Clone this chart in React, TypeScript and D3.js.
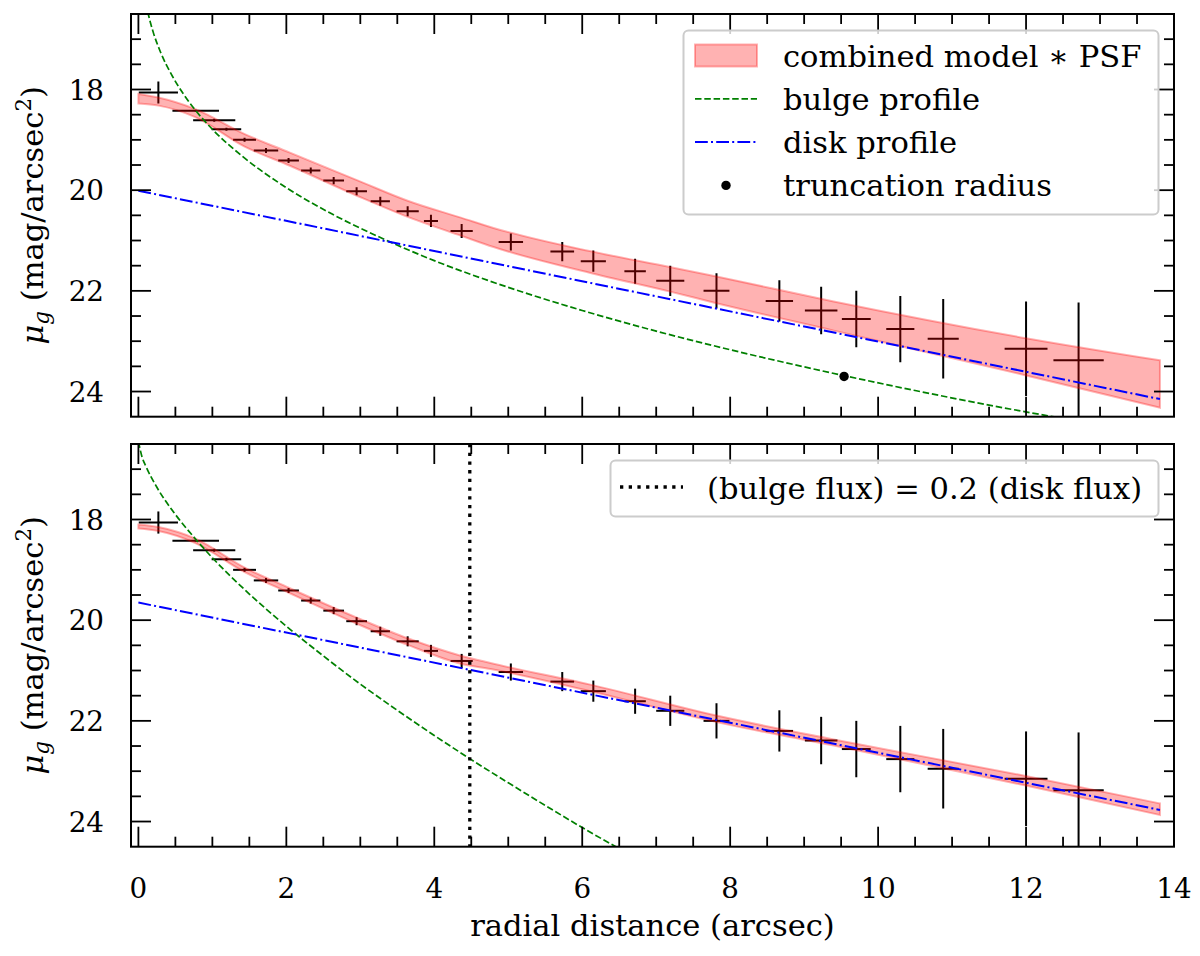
import React from 'react';
import * as d3 from 'd3';

// ---------- data ----------
const radius = [0.27, 0.775, 1.025, 1.19, 1.435, 1.725, 2.03, 2.33, 2.64, 2.95, 3.27, 3.64, 3.955, 4.37, 5.035, 5.73, 6.15, 6.715, 7.19, 7.815, 8.665, 9.23, 9.705, 10.3, 10.88, 12.0, 12.71];
const radiusErr = [0.265, 0.315, 0.285, 0.2, 0.155, 0.165, 0.14, 0.13, 0.14, 0.14, 0.13, 0.15, 0.095, 0.15, 0.165, 0.16, 0.17, 0.145, 0.19, 0.175, 0.185, 0.22, 0.195, 0.19, 0.21, 0.29, 0.34];
const mu = [18.06, 18.42, 18.61, 18.79, 19.0, 19.21, 19.41, 19.61, 19.81, 20.02, 20.22, 20.42, 20.61, 20.81, 21.03, 21.22, 21.41, 21.61, 21.8, 22.0, 22.2, 22.39, 22.56, 22.76, 22.95, 23.15, 23.38];
const muErr = [0.22, 0.02, 0.03, 0.03, 0.04, 0.05, 0.05, 0.06, 0.07, 0.08, 0.09, 0.1, 0.12, 0.14, 0.17, 0.19, 0.21, 0.25, 0.3, 0.35, 0.41, 0.47, 0.56, 0.66, 0.79, 0.94, 1.15];

// top panel model band (combined model * PSF)
const bandTopR = [0, 0.27, 0.77, 1.43, 2.04, 2.97, 3.64, 4.37, 4.8, 6.1, 7.2, 7.8, 9.4, 12.0, 13.81];
const bandTopUpper = [18.09, 18.16, 18.39, 18.88, 19.25, 19.81, 20.21, 20.55, 20.75, 21.21, 21.53, 21.71, 22.21, 22.94, 23.38];
const bandTopLower = [18.28, 18.32, 18.55, 19.13, 19.51, 20.12, 20.53, 20.91, 21.13, 21.64, 22.02, 22.24, 22.79, 23.68, 24.32];

// bottom panel model band
const bandBotR = [0, 0.27, 0.77, 1.43, 2.04, 2.97, 3.64, 4.37, 4.76, 6.11, 7.83, 9.4, 11.98, 13.81];
const bandBotUpper = [18.1, 18.15, 18.38, 18.95, 19.36, 19.96, 20.36, 20.71, 20.85, 21.28, 21.9, 22.37, 23.09, 23.64];
const bandBotLower = [18.18, 18.23, 18.47, 19.04, 19.46, 20.08, 20.49, 20.87, 20.97, 21.41, 22.03, 22.49, 23.28, 23.87];

// bulge profiles
const bulgeTopR = [0.1, 0.135, 0.2, 0.3, 0.45, 0.6, 0.77, 1.0, 1.4, 2.0, 2.6, 3.3, 4.0, 5.0, 6.0, 7.0, 8.0, 9.0, 10.5, 11.5, 12.4];
const bulgeTopMu = [16.27, 16.51, 16.86, 17.26, 17.71, 18.07, 18.41, 18.79, 19.32, 19.95, 20.46, 20.96, 21.4, 21.93, 22.39, 22.8, 23.17, 23.51, 23.98, 24.27, 24.51];
const bulgeBotR = [0, 0.05, 0.1, 0.25, 0.5, 0.75, 1.0, 1.5, 2.0, 2.5, 3.0, 3.5, 4.0, 4.5, 5.0, 5.5, 6.0, 6.6];
const bulgeBotMu = [16.45, 16.76, 16.94, 17.36, 17.9, 18.35, 18.76, 19.48, 20.12, 20.71, 21.27, 21.79, 22.29, 22.77, 23.23, 23.68, 24.12, 24.62];

// disk profiles
const diskR = [0, 13.81];
const diskTopMu = [20.01, 24.15];
const diskBotMu = [19.65, 23.77];

// special markers
const truncR = [9.54];
const truncMu = [23.7];
const fluxRatioR = 4.48;

// ticks
const xTickVals = [0, 2, 4, 6, 8, 10, 12, 14];
const xTickLabels = ['0', '2', '4', '6', '8', '10', '12', '14'];
const yTickVals = [18, 20, 22, 24];
const yTickLabels = ['18', '20', '22', '24'];

const topLegendLabels = ['combined model \u2217 PSF', 'bulge profile', 'disk profile', 'truncation radius'];
const botLegendLabel = '(bulge flux) = 0.2 (disk flux)';

// ---------- layout ----------
const W = 1200;
const H = 956;
const L = 131;
const R = 1174;
const FONT = "'DejaVu Serif', 'Liberation Serif', serif";
const FS = 27.8; // tick labels
const FL = 30.56; // axis labels & legend

const x = d3.scaleLinear().domain([-0.1, 14]).range([L, R]);

type PanelProps = {
  top: number;
  bottom: number;
  id: string;
  bandR: number[];
  bandUpper: number[];
  bandLower: number[];
  bulgeR: number[];
  bulgeMu: number[];
  diskMu: number[];
  showXLabels: boolean;
  extra?: (y: d3.ScaleLinear<number, number>) => React.ReactNode;
};

function Panel(p: PanelProps) {
  const y = d3.scaleLinear().domain([16.5, 24.5]).range([p.top, p.bottom]);
  const area = d3
    .area<number>()
    .x((_, i) => x(p.bandR[i]))
    .y0((_, i) => y(p.bandLower[i]))
    .y1((_, i) => y(p.bandUpper[i]))
    .curve(d3.curveMonotoneX);
  const bulgeLine = d3
    .line<number>()
    .x((_, i) => x(p.bulgeR[i]))
    .y((d) => y(d))
    .curve(d3.curveMonotoneX);
  const diskLine = d3
    .line<number>()
    .x((_, i) => x(diskR[i]))
    .y((d) => y(d));

  const xMinor = x.ticks(28).filter((t) => !xTickVals.includes(t));
  const yMinor = d3.range(33, 50).map((k) => k / 2).filter((t) => !yTickVals.includes(t) && t > 16.5 && t < 24.5);
  const tickW = 1.8;
  const maj = 20;
  const mnr = 10;

  return (
    <g>
      <defs>
        <clipPath id={p.id}>
          <rect x={L} y={p.top} width={R - L} height={p.bottom - p.top} />
        </clipPath>
      </defs>
      <g clipPath={`url(#${p.id})`}>
        {radius.map((r, i) => (
          <g key={i} stroke="#000" strokeWidth={2}>
            <line x1={x(r - radiusErr[i])} x2={x(r + radiusErr[i])} y1={y(mu[i])} y2={y(mu[i])} />
            <line x1={x(r)} x2={x(r)} y1={y(mu[i] - muErr[i])} y2={y(mu[i] + muErr[i])} />
          </g>
        ))}
        <path
          d={area(p.bandR) || ''}
          fill="red"
          fillOpacity={0.3}
          stroke="red"
          strokeOpacity={0.3}
          strokeWidth={2}
        />
        <path d={bulgeLine(p.bulgeMu) || ''} fill="none" stroke="green" strokeWidth={1.7} strokeDasharray="6.5 2.8" />
        <path d={diskLine(p.diskMu) || ''} fill="none" stroke="blue" strokeWidth={2} strokeDasharray="12.8 3.2 2 3.2" />
        {p.extra ? p.extra(y) : null}
      </g>
      <g stroke="#000" strokeWidth={tickW}>
        {xTickVals.map((t) => (
          <g key={'xm' + t}>
            <line x1={x(t)} x2={x(t)} y1={p.bottom} y2={p.bottom - maj} />
            <line x1={x(t)} x2={x(t)} y1={p.top} y2={p.top + maj} />
          </g>
        ))}
        {xMinor.map((t) => (
          <g key={'xn' + t}>
            <line x1={x(t)} x2={x(t)} y1={p.bottom} y2={p.bottom - mnr} />
            <line x1={x(t)} x2={x(t)} y1={p.top} y2={p.top + mnr} />
          </g>
        ))}
        {yTickVals.map((t) => (
          <g key={'ym' + t}>
            <line x1={L} x2={L + maj} y1={y(t)} y2={y(t)} />
            <line x1={R} x2={R - maj} y1={y(t)} y2={y(t)} />
          </g>
        ))}
        {yMinor.map((t) => (
          <g key={'yn' + t}>
            <line x1={L} x2={L + mnr} y1={y(t)} y2={y(t)} />
            <line x1={R} x2={R - mnr} y1={y(t)} y2={y(t)} />
          </g>
        ))}
      </g>
      <rect x={L} y={p.top} width={R - L} height={p.bottom - p.top} fill="none" stroke="#000" strokeWidth={2} />
      {yTickVals.map((t, i) => (
        <text key={'yl' + t} x={104} y={y(t) + 10} textAnchor="end" fontSize={FS} fontFamily={FONT} fill="#000">
          {yTickLabels[i]}
        </text>
      ))}
      {p.showXLabels &&
        xTickVals.map((t, i) => (
          <text key={'xl' + t} x={x(t)} y={897.5} textAnchor="middle" fontSize={FS} fontFamily={FONT} fill="#000">
            {xTickLabels[i]}
          </text>
        ))}
      <text
        transform={`translate(43, ${(p.top + p.bottom) / 2}) rotate(-90)`}
        textAnchor="middle"
        fontSize={FL}
        fontFamily={FONT}
        fill="#000"
      >
        <tspan fontStyle="italic">μ</tspan>
        <tspan fontStyle="italic" fontSize={21.4} dy={5.5}>g</tspan>
        <tspan dy={-5.5}> (mag/arcsec</tspan>
        <tspan fontSize={21.4} dy={-12}>2</tspan>
        <tspan dy={12}>)</tspan>
      </text>
    </g>
  );
}

export default function App() {
  const rowY = [55.5, 98.8, 142.1, 185.4];
  const hx1 = 695;
  const hx2 = 757;
  return (
    <svg
      width={W}
      height={H}
      viewBox={`0 0 ${W} ${H}`}
      style={{ position: 'absolute', left: 0, top: 0, background: '#fff' }}
      xmlns="http://www.w3.org/2000/svg"
    >
      <rect x={0} y={0} width={W} height={H} fill="#fff" />
      <Panel
        top={14}
        bottom={416.7}
        id="clipTop"
        bandR={bandTopR}
        bandUpper={bandTopUpper}
        bandLower={bandTopLower}
        bulgeR={bulgeTopR}
        bulgeMu={bulgeTopMu}
        diskMu={diskTopMu}
        showXLabels={false}
        extra={(y) => truncR.map((r, i) => <circle key={i} cx={x(r)} cy={y(truncMu[i])} r={4.7} fill="#000" />)}
      />
      <Panel
        top={444}
        bottom={846.7}
        id="clipBot"
        bandR={bandBotR}
        bandUpper={bandBotUpper}
        bandLower={bandBotLower}
        bulgeR={bulgeBotR}
        bulgeMu={bulgeBotMu}
        diskMu={diskBotMu}
        showXLabels={true}
        extra={(y) => (
          <line
            x1={x(fluxRatioR)}
            x2={x(fluxRatioR)}
            y1={y(16.5)}
            y2={y(24.5)}
            stroke="#000"
            strokeWidth={3.3}
            strokeDasharray="3.3 5.4"
          />
        )}
      />

      {/* top legend */}
      <rect x={683.5} y={30.5} width={475} height={184} rx={5} fill="#fff" fillOpacity={0.8} stroke="#cccccc" strokeWidth={2} />
      <rect x={hx1} y={44.5} width={hx2 - hx1} height={22} fill="red" fillOpacity={0.3} stroke="red" strokeOpacity={0.3} strokeWidth={2} />
      <line x1={hx1} x2={hx2} y1={rowY[1]} y2={rowY[1]} stroke="green" strokeWidth={1.7} strokeDasharray="6.5 2.8" />
      <line x1={hx1} x2={hx2} y1={rowY[2]} y2={rowY[2]} stroke="blue" strokeWidth={2} strokeDasharray="12.8 3.2 2 3.2" />
      <circle cx={(hx1 + hx2) / 2} cy={rowY[3]} r={4.7} fill="#000" />
      {topLegendLabels.map((t, i) => (
        <text key={t} x={783} y={rowY[i] + 11} fontSize={FL} fontFamily={FONT} fill="#000">
          {t}
        </text>
      ))}

      {/* bottom legend */}
      <rect x={610.5} y={460.5} width={548} height={56} rx={5} fill="#fff" fillOpacity={0.8} stroke="#cccccc" strokeWidth={2} />
      <line x1={620} x2={683} y1={487} y2={487} stroke="#000" strokeWidth={3.3} strokeDasharray="3.3 5.4" />
      <text x={707} y={499} fontSize={FL} fontFamily={FONT} fill="#000">
        {botLegendLabel}
      </text>

      {/* x label */}
      <text x={(L + R) / 2} y={936} textAnchor="middle" fontSize={FL} fontFamily={FONT} fill="#000">
        radial distance (arcsec)
      </text>
    </svg>
  );
}
